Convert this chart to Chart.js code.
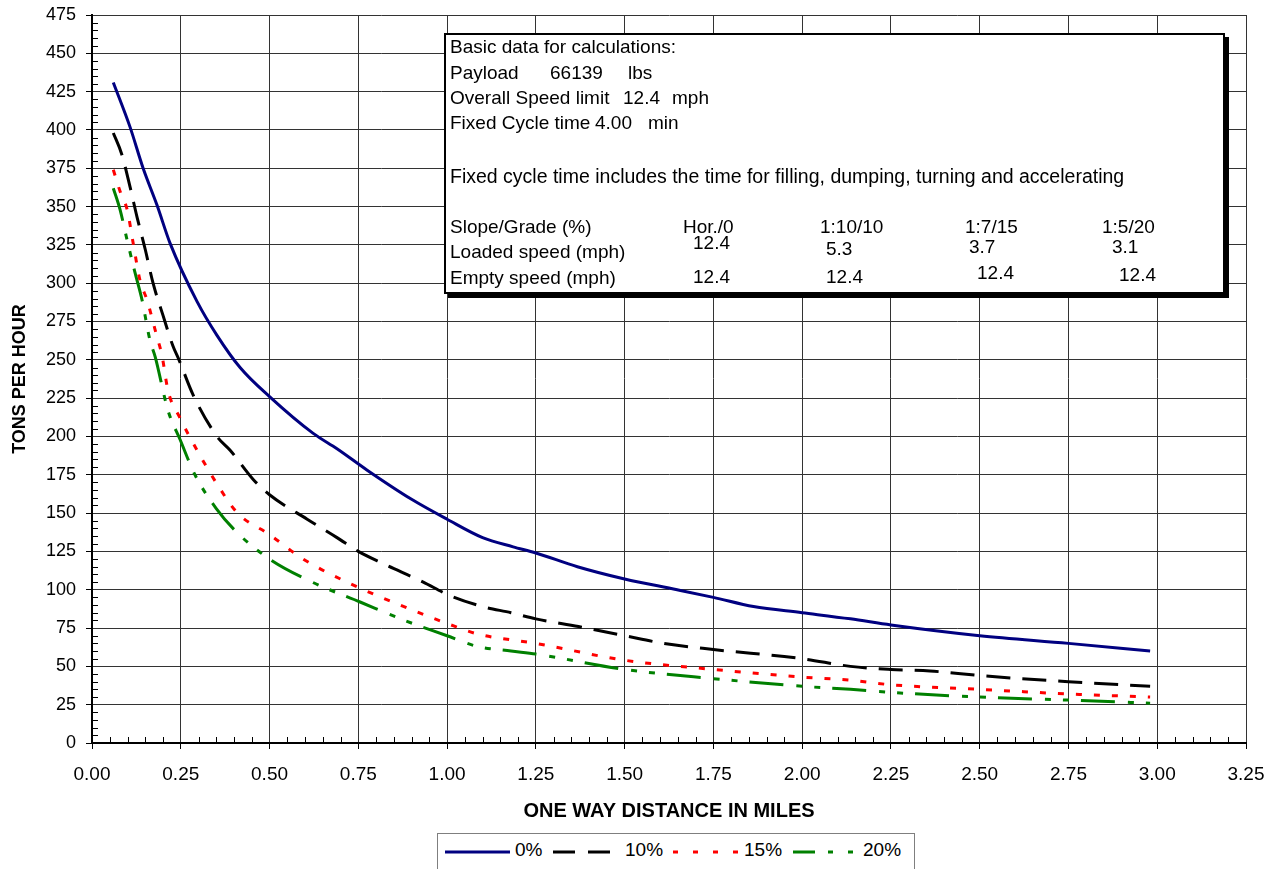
<!DOCTYPE html>
<html>
<head>
<meta charset="utf-8">
<script src="https://cdn.jsdelivr.net/npm/chart.js@4.4.1/dist/chart.umd.min.js"></script>
<style>
  body { margin: 0; background: #fff; overflow: hidden; }
  #wrap { position: relative; width: 1270px; height: 869px; font-family: "Liberation Sans", Arial, sans-serif; color: #000; }
  #chart { position: absolute; left: 0; top: 0; }
  .infobox { position: absolute; left: 444px; top: 33px; width: 781px; height: 261px; box-sizing: border-box;
             border: 2px solid #000; box-shadow: 4px 4px 0 #000; background: #fff; }
  .t { position: absolute; font-size: 19px; line-height: 22px; white-space: pre; }
  .legend { position: absolute; left: 437px; top: 833px; width: 478px; height: 50px; box-sizing: border-box;
            border: 1px solid #7f7f7f; background: #fff; }
  .legend svg { position: absolute; left: 0; top: 0; }
  .legend .t { top: 5px; }
</style>
</head>
<body>
<div id="wrap">
  <canvas id="chart" width="1270" height="869"></canvas>

  <div class="infobox"></div>
  <div class="t" style="left:450px;top:36px">Basic data for calculations:</div>
  <div class="t" style="left:450px;top:62px">Payload</div>
  <div class="t" style="left:550px;top:62px">66139</div>
  <div class="t" style="left:628px;top:62px">lbs</div>
  <div class="t" style="left:450px;top:87px">Overall Speed limit</div>
  <div class="t" style="left:623px;top:87px">12.4</div>
  <div class="t" style="left:672px;top:87px">mph</div>
  <div class="t" style="left:450px;top:112px">Fixed Cycle time</div>
  <div class="t" style="left:595px;top:112px">4.00</div>
  <div class="t" style="left:648px;top:112px">min</div>
  <div class="t" style="left:450px;top:165px;font-size:19.5px">Fixed cycle time includes the time for filling, dumping, turning and accelerating</div>
  <div class="t" style="left:450px;top:216px">Slope/Grade (%)</div>
  <div class="t" style="left:683px;top:216px">Hor./0</div>
  <div class="t" style="left:820px;top:216px">1:10/10</div>
  <div class="t" style="left:965px;top:216px">1:7/15</div>
  <div class="t" style="left:1102px;top:216px">1:5/20</div>
  <div class="t" style="left:450px;top:241px">Loaded speed (mph)</div>
  <div class="t" style="left:693px;top:232px">12.4</div>
  <div class="t" style="left:826px;top:238px">5.3</div>
  <div class="t" style="left:969px;top:236px">3.7</div>
  <div class="t" style="left:1112px;top:236px">3.1</div>
  <div class="t" style="left:450px;top:267px">Empty speed (mph)</div>
  <div class="t" style="left:693px;top:266px">12.4</div>
  <div class="t" style="left:826px;top:266px">12.4</div>
  <div class="t" style="left:977px;top:262px">12.4</div>
  <div class="t" style="left:1119px;top:264px">12.4</div>

  <div class="legend">
    <svg width="476" height="48">
      <line x1="7" y1="18" x2="72" y2="18" stroke="#000080" stroke-width="3"/>
      <line x1="115" y1="18" x2="173" y2="18" stroke="#000" stroke-width="3" stroke-dasharray="22 13"/>
      <line x1="235" y1="18" x2="300" y2="18" stroke="#ff0000" stroke-width="3" stroke-dasharray="5 15"/>
      <line x1="355" y1="18" x2="416" y2="18" stroke="#008000" stroke-width="3" stroke-dasharray="22 13 5 15 5 15"/>
    </svg>
    <div class="t" style="left:77px">0%</div>
    <div class="t" style="left:187px">10%</div>
    <div class="t" style="left:306px">15%</div>
    <div class="t" style="left:425px">20%</div>
  </div>
</div>

<script>
// values (miles, tons per hour)
const seriesNames = ['0%', '10%', '15%', '20%']

const dist0 = [0.06, 0.107, 0.144, 0.183, 0.22, 0.296, 0.352, 0.417, 0.5, 0.623, 0.69, 0.775, 0.9, 1.0, 1.1, 1.186, 1.25, 1.367, 1.5, 1.648, 1.75, 1.863, 2.0, 2.136, 2.25, 2.5, 2.75, 2.98]
const tph0  = [431, 402, 375, 351, 326, 288, 266, 245, 226, 202, 192, 178, 159, 146, 134, 128, 124, 115, 107, 100, 95, 89, 85, 81, 77, 70, 65, 60]

const dist10 = [0.06, 0.084, 0.107, 0.127, 0.15, 0.172, 0.2, 0.228, 0.245, 0.285, 0.352, 0.389, 0.454, 0.5, 0.606, 0.69, 0.75, 0.82, 0.933, 1.0, 1.1, 1.18, 1.25, 1.37, 1.5, 1.61, 1.75, 2.0, 2.136, 2.25, 2.36, 2.5, 2.75, 2.98]
const tph10  = [398, 384, 363, 343, 322, 300, 279, 259, 250, 227, 200, 191, 172, 162, 146, 134, 125, 117, 105, 97, 89, 85, 81, 76, 70, 65, 61, 55, 50, 48, 47, 44, 40, 37]

const dist15 = [0.06, 0.079, 0.099, 0.116, 0.135, 0.155, 0.183, 0.197, 0.214, 0.248, 0.296, 0.352, 0.41, 0.5, 0.595, 0.727, 0.868, 1.0, 1.088, 1.25, 1.5, 1.75, 2.0, 2.136, 2.25, 2.5, 2.75, 2.98]
const tph15  = [374, 360, 348, 326, 302, 289, 265, 253, 230, 212, 191, 169, 150, 136, 120, 104, 90, 78, 71, 65, 54, 48, 43, 41, 38, 35, 32, 30]

const dist20 = [0.06, 0.079, 0.099, 0.121, 0.141, 0.163, 0.178, 0.214, 0.248, 0.29, 0.35, 0.41, 0.5, 0.62, 0.755, 0.88, 1.0, 1.085, 1.18, 1.25, 1.5, 1.75, 2.0, 2.136, 2.25, 2.5, 2.75, 2.98]
const tph20  = [362, 348, 328, 307, 289, 263, 252, 217, 198, 175, 153, 137, 120, 105, 92, 80, 70, 63, 60, 58, 48, 42, 37, 35, 33, 30, 28, 26]

const xMin = 0, xMax = 3.25, xStep = 0.25, xMinor = 0.05
const yMin = 0, yMax = 475, yStep = 25, yMinor = 5

function points(xs, ys) {
    return xs.map((x, i) => ({ x: x, y: ys[i] }))
}

// small inward tick marks between the labelled ones
const minorTicks = {
    id: 'minorTicks',
    afterDraw(chart) {
        const { ctx, chartArea, scales } = chart
        ctx.save()
        ctx.strokeStyle = '#000'
        ctx.lineWidth = 1
        ctx.beginPath()
        const nx = Math.round((xMax - xMin) / xMinor)
        for (let i = 0; i <= nx; i++) {
            if (i % 5 === 0) continue
            const px = Math.round(scales.x.getPixelForValue(xMin + i * xMinor)) + 0.5
            ctx.moveTo(px, chartArea.bottom)
            ctx.lineTo(px, chartArea.bottom - 6)
        }
        const ny = Math.round((yMax - yMin) / yMinor)
        for (let i = 0; i <= ny; i++) {
            if (i % 5 === 0) continue
            const py = Math.round(scales.y.getPixelForValue(yMin + i * yMinor)) + 0.5
            ctx.moveTo(chartArea.left, py)
            ctx.lineTo(chartArea.left + 6, py)
        }
        ctx.stroke()
        ctx.restore()
    }
}

const lineStyle = {
    pointRadius: 0,
    borderWidth: 3,
    fill: false,
    cubicInterpolationMode: 'monotone',
    borderCapStyle: 'butt'
}

new Chart(document.getElementById('chart'), {
    type: 'line',
    data: {
        datasets: [
            { ...lineStyle, label: seriesNames[0], data: points(dist0, tph0), borderColor: '#000080' },
            { ...lineStyle, label: seriesNames[1], data: points(dist10, tph10), borderColor: '#000000', borderDash: [24, 12] },
            { ...lineStyle, label: seriesNames[2], data: points(dist15, tph15), borderColor: '#ff0000', borderDash: [6, 12] },
            { ...lineStyle, label: seriesNames[3], data: points(dist20, tph20), borderColor: '#008000', borderDash: [34, 13, 6, 12, 6, 12] }
        ]
    },
    options: {
        responsive: false,
        animation: false,
        devicePixelRatio: 1,
        layout: { padding: { left: 0, right: 24, top: 15, bottom: 0 } },
        plugins: {
            legend: { display: false },
            tooltip: { enabled: false }
        },
        scales: {
            x: {
                type: 'linear',
                min: xMin,
                max: xMax,
                ticks: {
                    stepSize: xStep,
                    color: '#000',
                    padding: 14,
                    font: { family: 'Liberation Sans', size: 19 },
                    callback: v => v.toFixed(2)
                },
                grid: { color: '#333', lineWidth: 1, tickColor: '#000', tickLength: 6 },
                border: { color: '#000', width: 2 },
                title: {
                    display: true,
                    text: 'ONE WAY DISTANCE IN MILES',
                    color: '#000',
                    font: { family: 'Liberation Sans', size: 20, weight: 'bold' },
                    padding: { top: 0, bottom: 46 }
                },
                afterFit(scale) {
                    scale.height = 126
                    scale.paddingLeft = 0
                    scale.paddingRight = 0
                }
            },
            y: {
                type: 'linear',
                min: yMin,
                max: yMax,
                ticks: {
                    stepSize: yStep,
                    color: '#000',
                    padding: 10,
                    font: { family: 'Liberation Sans', size: 18 }
                },
                grid: { color: '#333', lineWidth: 1, tickColor: '#000', tickLength: 6 },
                border: { color: '#000', width: 2 },
                title: {
                    display: true,
                    text: 'TONS PER HOUR',
                    color: '#000',
                    font: { family: 'Liberation Sans', size: 18, weight: 'bold' },
                    padding: { top: 9, bottom: 0 }
                },
                afterFit(scale) {
                    scale.width = 92
                    scale.paddingTop = 0
                    scale.paddingBottom = 0
                }
            }
        }
    },
    plugins: [minorTicks]
})
</script>
</body>
</html>
